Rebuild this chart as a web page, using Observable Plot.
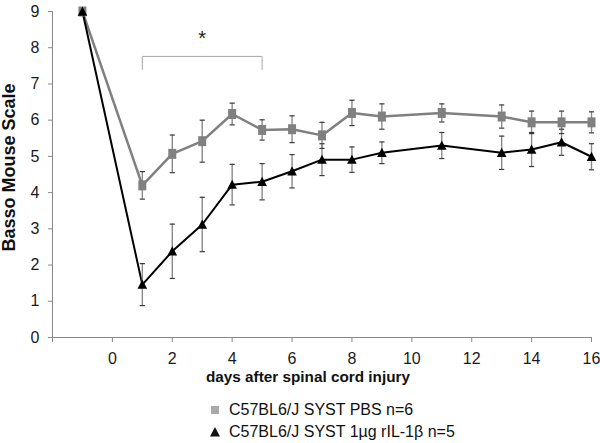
<!DOCTYPE html>
<html>
<head>
<meta charset="utf-8">
<script src="https://cdn.jsdelivr.net/npm/d3@7"></script>
<script src="https://cdn.jsdelivr.net/npm/@observablehq/plot@0.6"></script>
<style>
  html, body { margin: 0; padding: 0; background: #fff; }
  body { width: 600px; height: 443px; overflow: hidden; font-family: "Liberation Sans", Arial, sans-serif; }
  #legend { position: relative; height: 48px; font-size: 16px; color: #111; }
  .row { position: absolute; left: 208px; display: flex; align-items: center; height: 20px; }
  .row svg { margin-right: 7px; }
</style>
</head>
<body>
<div id="chart"></div>
<div id="legend"></div>
<script>
// ---- data ----
const days = [-1, 1, 2, 3, 4, 5, 6, 7, 8, 9, 11, 13, 14, 15, 16];
const pbsMean = [9, 4.2, 5.07, 5.42, 6.17, 5.73, 5.75, 5.58, 6.2, 6.1, 6.2, 6.1, 5.94, 5.94, 5.94];
const pbsErr  = [0, 0.38, 0.52, 0.58, 0.3, 0.28, 0.37, 0.36, 0.35, 0.35, 0.25, 0.32, 0.31, 0.31, 0.29];
const ilMean  = [9, 1.46, 2.38, 3.12, 4.22, 4.3, 4.59, 4.91, 4.91, 5.1, 5.3, 5.1, 5.19, 5.39, 4.99];
const ilErr   = [0, 0.58, 0.75, 0.75, 0.56, 0.5, 0.46, 0.44, 0.35, 0.3, 0.36, 0.46, 0.47, 0.36, 0.36];
const seriesNames = ["C57BL6/J SYST PBS n=6", "C57BL6/J SYST 1µg rIL-1β n=5"];
const xTicks = [-2, 0, 2, 4, 6, 8, 10, 12, 14, 16];
const yTicks = [0, 1, 2, 3, 4, 5, 6, 7, 8, 9];
const bracketDays = [1, 1, 5, 5];
const bracketLevels = [7.4, 7.76, 7.76, 7.4];
const starDay = 3, starLevel = 8.25;
const xTitle = "days after spinal cord injury";
const yTitle = "Basso Mouse Scale";

const pbs = days.map((d, i) => ({day: d, v: pbsMean[i], lo: pbsMean[i] - pbsErr[i], hi: pbsMean[i] + pbsErr[i]}));
const il  = days.map((d, i) => ({day: d, v: ilMean[i], lo: ilMean[i] - ilErr[i], hi: ilMean[i] + ilErr[i]}));
const pbsE = pbs.filter((d, i) => pbsErr[i] > 0);
const ilE  = il.filter((d, i) => ilErr[i] > 0);
const bracket = bracketDays.map((d, i) => ({day: d, v: bracketLevels[i]}));

const rectSym = {draw(ctx) { ctx.rect(-4, -5, 8, 10); }};
const triSym  = {draw(ctx) { ctx.moveTo(0, -5); ctx.lineTo(4.8, 4.2); ctx.lineTo(-4.8, 4.2); ctx.closePath(); }};
const capSym  = {draw(ctx) { ctx.moveTo(-2.6, 0); ctx.lineTo(2.6, 0); }};

const stemColor = "#8a8a8a", capColor = "#3a3a3a";

const chart = Plot.plot({
  width: 600,
  height: 395,
  marginLeft: 52,
  marginRight: 9,
  marginTop: 11,
  marginBottom: 58,
  style: {fontFamily: "'Liberation Sans', Arial, sans-serif", fontSize: "16px", color: "#1a1a1a", background: "#fff"},
  x: {domain: [-2, 16]},
  y: {domain: [0, 9]},
  marks: [
    Plot.ruleX([-2], {stroke: "#888"}),
    Plot.ruleY([0], {stroke: "#888"}),
    Plot.axisY({ticks: yTicks, tickSize: 4, tickPadding: 9, stroke: "#888", fontSize: 16, label: null, tickFormat: d => String(d)}),
    Plot.axisX({ticks: xTicks, tickSize: 5, tickPadding: 10, stroke: "#888", fontSize: 16, label: null, tickFormat: d => d < 0 ? "" : String(d)}),
    // significance bracket
    Plot.line(bracket, {x: "day", y: "v", stroke: "#a8a8a8", strokeWidth: 1}),
    Plot.text([starDay], {x: d => d, y: () => starLevel, text: () => "*", fontSize: 20, fill: "#222"}),
    // lines
    Plot.line(pbs, {x: "day", y: "v", stroke: "#808080", strokeWidth: 2.5}),
    Plot.line(il, {x: "day", y: "v", stroke: "#000", strokeWidth: 2}),
    // error bars
    Plot.ruleX(pbsE, {x: "day", y1: "lo", y2: "hi", stroke: stemColor, strokeWidth: 1.4}),
    Plot.ruleX(ilE, {x: "day", y1: "lo", y2: "hi", stroke: stemColor, strokeWidth: 1.4}),
    Plot.dot(pbsE, {x: "day", y: "lo", symbol: capSym, stroke: capColor, strokeWidth: 1.2, fill: "none"}),
    Plot.dot(pbsE, {x: "day", y: "hi", symbol: capSym, stroke: capColor, strokeWidth: 1.2, fill: "none"}),
    Plot.dot(ilE, {x: "day", y: "lo", symbol: capSym, stroke: capColor, strokeWidth: 1.2, fill: "none"}),
    Plot.dot(ilE, {x: "day", y: "hi", symbol: capSym, stroke: capColor, strokeWidth: 1.2, fill: "none"}),
    // markers
    Plot.dot(pbs, {x: "day", y: "v", symbol: rectSym, fill: "#808080", stroke: "none"}),
    Plot.dot(il, {x: "day", y: "v", symbol: triSym, fill: "#000", stroke: "none"}),
    // titles
    Plot.text([xTitle], {frameAnchor: "bottom", textAnchor: "middle", lineAnchor: "middle", dx: -14, dy: 40, fontWeight: "bold", fontSize: 15.3, fill: "#111"}),
    Plot.text([yTitle], {frameAnchor: "left", textAnchor: "middle", lineAnchor: "middle", rotate: -90, dx: -43, dy: -7, fontWeight: "bold", fontSize: 18, fill: "#111"})
  ]
});
document.getElementById("chart").append(chart);

// legend
const legend = document.getElementById("legend");
const markers = [
  `<svg width="14" height="14" viewBox="-7 -7 14 14"><rect x="-4" y="-4" width="8" height="8" fill="#a9a9a9"/></svg>`,
  `<svg width="14" height="14" viewBox="-7 -7 14 14"><path d="M0,-5L5,4.5L-5,4.5Z" fill="#111"/></svg>`
];
seriesNames.forEach((name, i) => {
  const row = document.createElement("div");
  row.className = "row";
  row.style.top = (5 + i * 22) + "px";
  row.innerHTML = markers[i] + `<span>${name}</span>`;
  legend.append(row);
});
</script>
</body>
</html>
